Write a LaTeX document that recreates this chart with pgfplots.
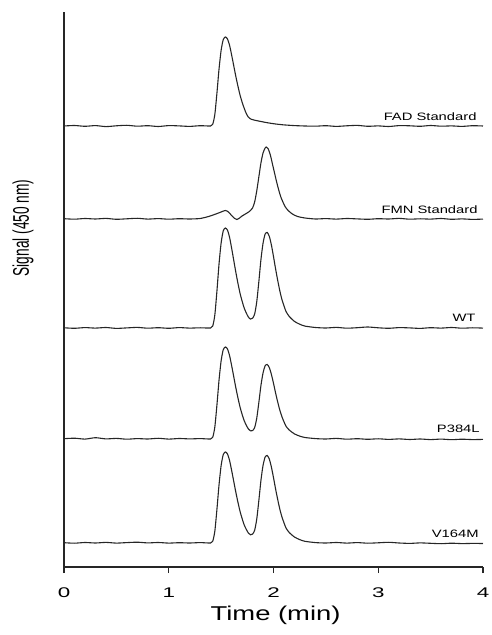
\documentclass[border=0pt]{standalone}
\usepackage{fontspec}
\setmainfont{Liberation Sans}
\usepackage{pgfplots}
\pgfplotsset{compat=1.18}
\definecolor{trace}{RGB}{38,38,38}
% the scanned figure is stretched sideways, so the text is too
\newcommand{\wide}[2]{\scalebox{#1}[1]{#2}}

\begin{document}
\begin{tikzpicture}
\begin{axis}[
  name=ax,
  scale only axis,
  width=419pt, height=555pt,
  xmin=0, xmax=4, ymin=0, ymax=555,
  axis lines=left,
  axis line style={-, line width=1.1pt, black!85},
  ytick=\empty,
  xtick={0,1,2,3,4},
  xticklabels={\wide{1.6}{0},\wide{1.6}{1},\wide{1.6}{2},\wide{1.6}{3},\wide{1.6}{4}},
  tick align=outside,
  major tick length=6pt,
  tick style={line width=1.1pt, black!85},
  xticklabel style={font=\fontsize{14}{14}\selectfont, anchor=base, yshift=-24pt},
  xlabel={\wide{1.37}{Time (min)}},
  xlabel style={font=\fontsize{20}{20}\selectfont, at={(axis description cs:0.505,0)}, anchor=base, yshift=-53pt},
  ylabel={\scalebox{1}[1.65]{Signal (450 nm)}},
  ylabel style={font=\fontsize{13.7}{13.7}\selectfont, at={(axis description cs:-0.098,0.611)}, anchor=center},
  no markers,
  every axis plot post/.append style={trace, line width=1.1pt, smooth, tension=0.4},
  clip=false,
]
% FAD Standard
\addplot coordinates {
  (0,441.0)(0.1,441.5)(0.2,440.7)(0.3,441.4)(0.4,440.4)(0.5,441.2)(0.6,441.7)
  (0.7,440.8)(0.8,441.3)(0.9,440.5)(1.0,441.4)(1.1,441.1)(1.2,440.6)(1.3,441.3)
  (1.40,441)(1.42,442.8)(1.44,452.6)(1.46,473.9)(1.48,498.0)(1.50,516.7)
  (1.52,527.3)(1.54,530)(1.56,528.2)(1.58,522.0)(1.60,512.2)(1.62,501.5)
  (1.64,490.8)(1.66,481.1)(1.68,472.2)(1.70,465.0)(1.72,458.8)(1.74,453.5)
  (1.76,449.9)(1.78,448.1)(1.82,446.8)(1.88,445.5)(1.95,444.1)(2.02,443.0)
  (2.10,442.1)(2.20,441.4)(2.30,441)(2.4,440.8)(2.5,441.3)(2.6,440.6)
  (2.7,441.2)(2.8,441.6)(2.9,440.7)(3.0,441.1)(3.1,440.5)(3.2,441.4)
  (3.3,441.2)(3.4,440.7)(3.5,441.5)(3.6,440.8)(3.7,441.1)(3.8,440.6)
  (3.9,441.3)(4.0,441.0)
};
% FMN Standard
\addplot coordinates {
  (0,348.3)(0.1,347.8)(0.2,348.5)(0.3,348.0)(0.4,348.6)(0.5,347.7)(0.6,348.2)
  (0.7,348.7)(0.8,347.9)(0.9,348.4)(1.0,347.8)(1.1,348.3)(1.2,348.0)
  (1.30,348.5)(1.38,350.5)(1.45,353)(1.50,355)(1.54,356.5)(1.57,355)
  (1.60,351.5)(1.63,348.5)(1.65,347.5)(1.67,348.5)(1.70,351)(1.74,353.5)
  (1.77,355.5)(1.80,359)(1.82,365)(1.84,376)(1.86,390)(1.88,404)(1.90,414)
  (1.92,419)(1.93,420)(1.95,418)(1.97,412)(1.99,403)(2.01,394)(2.03,385)
  (2.05,377)(2.07,370)(2.09,365)(2.11,360.5)(2.14,356.5)(2.18,353)
  (2.23,350.5)(2.30,349)(2.40,348)(2.5,348.4)(2.6,347.9)(2.7,348.5)
  (2.8,348.1)(2.9,347.7)(3.0,348.3)(3.1,348.0)(3.2,348.6)(3.3,347.8)
  (3.4,348.2)(3.5,347.9)(3.6,348.5)(3.7,347.7)(3.8,348.1)(3.9,347.6)(4.0,347.9)
};
% WT
\addplot coordinates {
  (0,239.2)(0.1,238.7)(0.2,239.4)(0.3,238.9)(0.4,239.5)(0.5,238.6)(0.6,239.1)
  (0.7,239.6)(0.8,238.8)(0.9,239.3)(1.0,238.7)(1.1,239.4)(1.2,238.9)(1.3,239.2)
  (1.40,239)(1.42,241)(1.44,252)(1.46,276)(1.48,303)(1.50,324)(1.52,336)
  (1.54,339)(1.56,337)(1.58,330)(1.60,319)(1.62,307)(1.64,295)(1.66,284)
  (1.68,274)(1.70,266)(1.72,259)(1.74,254)(1.76,250)(1.78,247.9)(1.80,248.8)
  (1.82,252.9)(1.84,265.1)(1.86,285.2)(1.88,307.3)(1.90,323.7)(1.92,332.9)
  (1.94,334.6)(1.96,330.6)(1.98,322.0)(2.00,310.5)(2.02,298.1)(2.04,286.7)
  (2.06,276.3)(2.08,267.7)(2.10,261.1)(2.12,255.4)(2.15,250.6)(2.20,245.6)
  (2.25,242.8)(2.30,240.9)(2.40,239.5)(2.5,239.0)(2.6,239.6)(2.7,238.8)
  (2.8,239.3)(2.9,240.0)(3.0,239.2)(3.1,238.7)(3.2,239.4)(3.3,239.1)
  (3.4,238.6)(3.5,239.3)(3.6,238.9)(3.7,239.5)(3.8,238.8)(3.9,239.2)(4.0,238.9)
};
% P384L
\addplot coordinates {
  (0,128.3)(0.1,128.8)(0.2,127.9)(0.3,129.3)(0.4,128.1)(0.5,128.6)(0.6,127.8)
  (0.7,128.4)(0.8,128.0)(0.9,128.7)(1.0,127.9)(1.1,128.5)(1.2,128.1)(1.3,128.4)
  (1.40,128)(1.42,129.8)(1.44,140.0)(1.46,162.0)(1.48,186.9)(1.50,206.2)
  (1.52,217.2)(1.54,220)(1.56,218.2)(1.58,211.7)(1.60,201.6)(1.62,190.6)
  (1.64,179.5)(1.66,169.4)(1.68,160.2)(1.70,152.8)(1.72,146.4)(1.74,141.8)
  (1.76,138.1)(1.78,136.1)(1.80,136.4)(1.82,139.4)(1.84,148.7)(1.86,164.4)
  (1.88,181.4)(1.90,194.0)(1.92,201.2)(1.94,202.5)(1.96,199.4)(1.98,192.6)
  (2.00,183.7)(2.02,174.0)(2.04,165.1)(2.06,157.0)(2.08,150.4)(2.10,145.2)
  (2.12,140.7)(2.15,137.0)(2.20,133.1)(2.25,130.9)(2.30,129.5)(2.40,128.4)
  (2.5,128.0)(2.6,128.6)(2.7,127.8)(2.8,128.3)(2.9,127.7)(3.0,128.2)
  (3.1,127.6)(3.2,128.1)(3.3,127.5)(3.4,128.0)(3.5,127.4)(3.6,127.9)
  (3.7,127.3)(3.8,127.8)(3.9,127.4)(4.0,127.6)
};
% V164M
\addplot coordinates {
  (0,24.3)(0.1,23.8)(0.2,24.5)(0.3,24.0)(0.4,24.6)(0.5,23.9)(0.6,24.4)
  (0.7,24.8)(0.8,24.1)(0.9,24.5)(1.0,23.9)(1.1,24.3)(1.2,24.0)(1.3,24.4)
  (1.40,24)(1.42,25.8)(1.44,35.8)(1.46,57.7)(1.48,82.2)(1.50,101.4)
  (1.52,112.3)(1.54,115)(1.56,113.2)(1.58,106.8)(1.60,96.8)(1.62,85.9)
  (1.64,75.0)(1.66,65.0)(1.68,55.9)(1.70,48.6)(1.72,42.2)(1.74,37.7)
  (1.76,34.0)(1.78,32.2)(1.80,32.9)(1.82,36.7)(1.84,47.8)(1.86,66.3)
  (1.88,86.5)(1.90,101.5)(1.92,109.9)(1.94,111.5)(1.96,107.9)(1.98,99.9)
  (2.00,89.4)(2.02,78.0)(2.04,67.6)(2.06,58.0)(2.08,50.3)(2.10,44.2)
  (2.12,38.9)(2.15,34.5)(2.20,30.0)(2.25,27.4)(2.30,25.7)(2.40,24.4)
  (2.5,24.0)(2.6,24.5)(2.7,23.9)(2.8,24.4)(2.9,23.8)(3.0,24.2)(3.1,24.7)
  (3.2,24.0)(3.3,23.6)(3.4,24.1)(3.5,23.7)(3.6,23.3)(3.7,23.8)(3.8,23.4)
  (3.9,23.6)(4.0,23.5)
};
\begin{scope}[every node/.style={anchor=base east, font=\fontsize{10.7}{10.7}\selectfont, inner sep=0pt}]
\node at (axis cs:3.94,446) {\wide{1.38}{FAD Standard}};
\node at (axis cs:3.95,353) {\wide{1.38}{FMN Standard}};
\node at (axis cs:3.93,245) {\wide{1.38}{WT}};
\node at (axis cs:3.97,134) {\wide{1.38}{P384L}};
\node at (axis cs:3.96,30) {\wide{1.38}{V164M}};
\end{scope}
\end{axis}
\pgfresetboundingbox
\path[use as bounding box] ([shift={(-64pt,-68pt)}]ax.south west) rectangle ([shift={(9pt,12pt)}]ax.north east);
\end{tikzpicture}
\end{document}
